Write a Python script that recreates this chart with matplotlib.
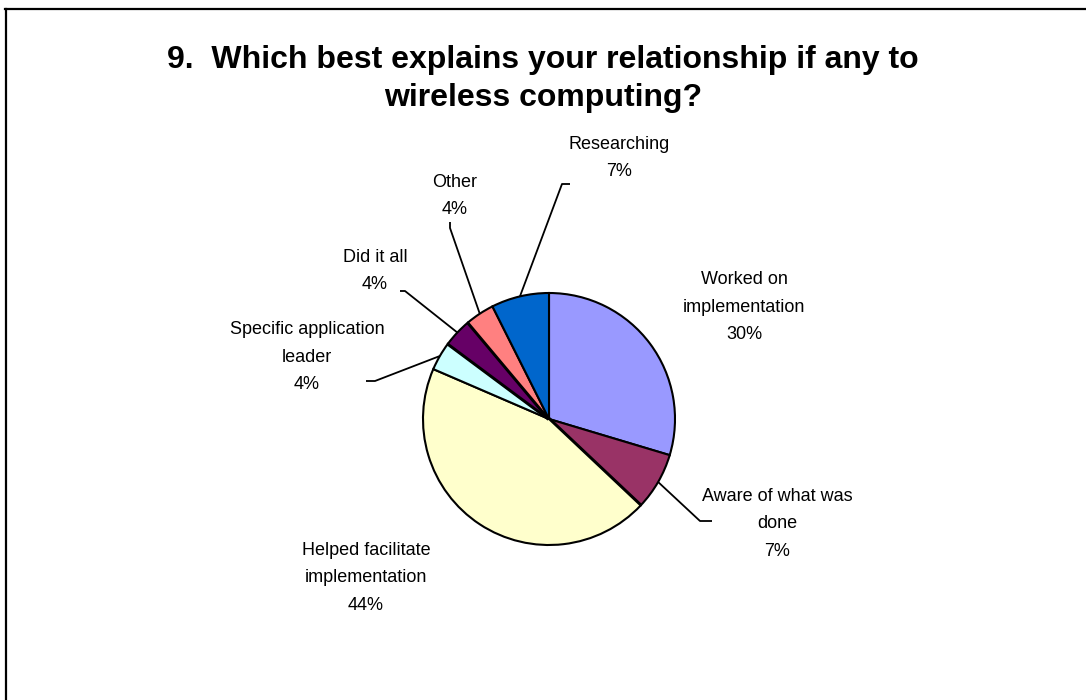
import numpy as np
import matplotlib.pyplot as plt
from matplotlib.lines import Line2D

plt.rcParams['font.family'] = ['Liberation Sans', 'DejaVu Sans']

W, H = 1086, 700

title = "9.  Which best explains your relationship if any to\nwireless computing?"
categories = ["Worked on\nimplementation", "Aware of what was\ndone", "",
              "Helped facilitate\nimplementation", "Specific application\nleader", "",
              "Did it all", "", "Other", "Researching"]
counts = [8, 2, 0, 12, 1, 0, 1, 0, 1, 2]
colors = ["#9999FF", "#993366", "#C0C0C0", "#FFFFCC", "#CCFFFF", "#C0C0C0",
          "#660066", "#C0C0C0", "#FF8080", "#0066CC"]

# label layout in image pixels: text centre, and leader tick (start, end)
label_pos = {0: (744, 307), 1: (777, 524), 3: (366, 578), 4: (307, 357),
             6: (375, 271), 8: (455, 196), 9: (619, 158)}
leader_tick = {1: ((712, 521), (700, 521)), 4: ((366, 381), (375, 381)),
               6: ((400, 291), (405, 291)), 8: ((450, 222), (450, 228)),
               9: ((570, 184), (562, 184))}

cx, cy, r = 549, 419, 126


def px(x, y):
    return x, H - y


fig = plt.figure(figsize=(W / 100, H / 100), dpi=100)
ax = fig.add_axes([0, 0, 1, 1])

wedges, _ = ax.pie(counts, colors=colors, startangle=90, counterclock=False,
                   center=px(cx, cy), radius=r,
                   wedgeprops=dict(edgecolor='black', linewidth=1.5))
# empty answers show up as thin slivers
for w, n in zip(wedges, counts):
    if n == 0:
        w.set_linewidth(2.8)
ax.set_xlim(0, W)
ax.set_ylim(0, H)
ax.set_aspect('equal')
ax.axis('off')

total = sum(counts)
for i, (cat, n) in enumerate(zip(categories, counts)):
    if i not in label_pos:
        continue
    tx, ty = label_pos[i]
    ax.text(*px(tx, ty), f"{cat}\n{round(100 * n / total)}%", ha='center', va='center',
            fontsize=13, linespacing=1.8, color='black')
    if i in leader_tick:
        w = wedges[i]
        mid = np.deg2rad((w.theta1 + w.theta2) / 2)
        ex, ey = w.center[0] + r * np.cos(mid), w.center[1] + r * np.sin(mid)
        (x0, y0), (x1, y1) = leader_tick[i]
        ax.plot([px(x0, y0)[0], px(x1, y1)[0], ex], [px(x0, y0)[1], px(x1, y1)[1], ey],
                color='black', lw=1.3, solid_capstyle='butt')

ax.text(*px(543, 79), title, ha='center', va='center', fontsize=23,
        fontweight='bold', linespacing=1.38)

# chart-area border (top and left edges visible)
fig.add_artist(Line2D([5 / W, 1], [1 - 9 / H, 1 - 9 / H], color='black', lw=1.6,
                      transform=fig.transFigure))
fig.add_artist(Line2D([6 / W, 6 / W], [0, 1 - 9 / H], color='black', lw=1.6,
                      transform=fig.transFigure))

fig.savefig("out.png", dpi=100)
